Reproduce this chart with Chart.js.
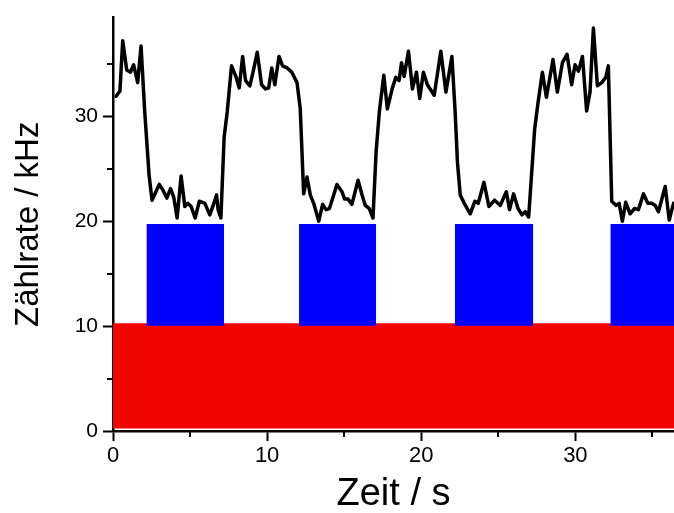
<!DOCTYPE html>
<html>
<head>
<meta charset="utf-8">
<script src="https://cdn.jsdelivr.net/npm/chart.js@4/dist/chart.umd.min.js"></script>
<style>
  body { margin: 0; background: #fff; }
  canvas { display: block; }
</style>
</head>
<body>
<canvas id="chart" width="674" height="513"></canvas>
<script>
// Zeitachse (s) und Zählrate (kHz)
const zeit = [
  0.2, 0.45, 0.63, 0.89, 1.13, 1.34, 1.6, 1.82, 2.06, 2.34, 2.53, 3.0, 3.23, 3.49, 3.73, 3.94,
  4.16, 4.42, 4.66, 4.85, 5.07, 5.33, 5.6, 5.96, 6.28, 6.5, 6.72, 6.82, 7.0, 7.21, 7.41, 7.69,
  7.97, 8.19, 8.41, 8.6, 8.88, 9.1, 9.36, 9.64, 9.9, 10.1, 10.3, 10.5, 10.77, 11.0, 11.3, 11.6,
  11.94, 12.15, 12.37, 12.59, 12.8, 13.02, 13.35, 13.6, 13.82, 14.04, 14.26, 14.53, 14.86, 15.03,
  15.25, 15.5, 15.9, 16.16, 16.37, 16.63, 16.87, 17.07, 17.28, 17.57, 17.8, 18.13, 18.35, 18.56,
  18.72, 18.89, 19.17, 19.43, 19.69, 19.9, 20.14, 20.4, 20.84, 21.27, 21.6, 21.99, 22.2, 22.35,
  22.53, 22.79, 23.18, 23.48, 23.7, 24.07, 24.39, 24.76, 25.13, 25.52, 25.73, 25.99, 26.28, 26.54,
  26.75, 26.97, 27.36, 27.58, 27.86, 28.12, 28.55, 28.83, 29.16, 29.46, 29.76, 29.98, 30.2, 30.46,
  30.73, 30.95, 31.17, 31.43, 31.71, 31.97, 32.14, 32.36, 32.65, 32.84, 33.05, 33.27, 33.55, 33.83,
  34.09, 34.42, 34.7, 34.96, 35.18, 35.39, 35.83, 36.09, 36.37
];
const zaehlrate = [
  31.9, 32.4, 37.2, 34.4, 34.2, 34.9, 33.2, 36.7, 30.4, 24.4, 22.0, 23.5, 23.0, 22.2, 23.1, 22.3,
  20.3, 24.3, 21.4, 21.7, 21.4, 20.3, 21.9, 21.7, 20.6, 21.5, 22.5, 21.1, 20.3, 28.0, 30.4, 34.8,
  33.8, 32.7, 35.7, 33.4, 32.9, 34.3, 36.1, 33.0, 32.6, 32.7, 34.6, 33.0, 35.7, 34.8, 34.6, 34.2,
  33.2, 30.7, 22.6, 24.2, 22.5, 21.7, 20.0, 21.6, 21.1, 21.2, 22.2, 23.5, 22.8, 22.1,
  22.1, 21.6, 23.9, 22.5, 21.5, 21.2, 20.3, 26.6, 30.4, 33.9, 30.7, 32.7, 33.7, 33.4,
  35.1, 33.8, 36.2, 32.6, 34.2, 31.7, 34.2, 33.0, 32.0, 36.2, 32.3, 35.7, 30.4, 25.6,
  22.5, 21.7, 20.7, 21.9, 21.7, 23.7, 21.4, 22.0, 21.5, 22.8, 21.1, 22.6, 21.2, 20.6,
  20.9, 20.4, 28.8, 31.3, 34.2, 31.8, 35.4, 32.3, 35.1, 35.9, 33.0, 34.9, 34.3, 35.7,
  30.5, 32.3, 38.4, 32.9, 33.2, 33.7, 34.8, 21.9, 21.5, 21.7, 20.0, 21.8, 20.7, 21.2,
  21.1, 22.6, 21.7, 21.7, 21.5, 20.9, 23.3, 20.1, 21.7
];

// Blaue Blöcke (Beginn/Ende in s, unten/oben in kHz)
const blauStart = [2.17, 12.07, 22.18, 32.27];
const blauEnde = [7.21, 17.07, 27.27, 36.4];
const blauUnten = 10.03;
const blauOben = 19.74;

// Rote Fläche
const rotUnten = 0.25;
const rotOben = 10.27;

const xMax = 36.4;
const yMax = 39.4;
const xTicks = [0, 10, 20, 30];
const yTicks = [0, 10, 20, 30];
const xMinor = [5, 15, 25, 35];
const yMinor = [5, 15, 25, 35];

const schrift = 'Liberation Sans, Arial, sans-serif';

const datasets = [];

datasets.push({
    data: zeit.map((t, i) => ({ x: t, y: zaehlrate[i] })),
    borderColor: '#000',
    borderWidth: 3.5,
    borderJoinStyle: 'round',
    borderCapStyle: 'round',
    pointRadius: 0,
    tension: 0,
    fill: false,
    order: 0
});

blauStart.forEach((s, i) => {
    datasets.push({
        data: [{ x: s, y: blauOben }, { x: blauEnde[i], y: blauOben }],
        borderWidth: 0,
        borderColor: 'rgba(0,0,0,0)',
        backgroundColor: '#0000FF',
        pointRadius: 0,
        fill: { value: blauUnten },
        order: 1
    });
});

datasets.push({
    data: [{ x: 0, y: rotOben }, { x: xMax, y: rotOben }],
    borderWidth: 0,
    borderColor: 'rgba(0,0,0,0)',
    backgroundColor: '#F00400',
    pointRadius: 0,
    fill: { value: rotUnten },
    order: 2
});

// kleine Zwischenstriche
const minorTicks = {
    id: 'minorTicks',
    afterDraw(chart) {
        const ctx = chart.ctx;
        const xs = chart.scales.x, ys = chart.scales.y;
        const area = chart.chartArea;
        ctx.save();
        ctx.strokeStyle = '#000';
        ctx.lineWidth = 2;
        ctx.beginPath();
        xMinor.forEach(v => {
            const px = Math.round(xs.getPixelForValue(v));
            ctx.moveTo(px, area.bottom);
            ctx.lineTo(px, area.bottom + 6);
        });
        yMinor.forEach(v => {
            const py = Math.round(ys.getPixelForValue(v));
            ctx.moveTo(area.left, py);
            ctx.lineTo(area.left - 6, py);
        });
        ctx.stroke();
        ctx.restore();
    }
};

new Chart(document.getElementById('chart'), {
    type: 'line',
    data: { datasets: datasets },
    options: {
        responsive: false,
        animation: false,
        layout: { padding: { top: 15, right: 0, left: 0, bottom: 0 } },
        plugins: {
            legend: { display: false },
            tooltip: { enabled: false },
            filler: { propagate: false }
        },
        scales: {
            x: {
                type: 'linear',
                min: 0,
                max: xMax,
                afterFit: scale => { scale.height = 82; },
                afterBuildTicks: scale => { scale.ticks = xTicks.map(v => ({ value: v })); },
                border: { display: true, color: '#000', width: 2.5 },
                grid: { drawOnChartArea: false, drawTicks: true, tickLength: 10, tickWidth: 2, tickColor: '#000' },
                ticks: {
                    color: '#000',
                    padding: 2,
                    maxRotation: 0,
                    font: { family: schrift, size: 22 }
                },
                title: {
                    display: true,
                    text: 'Zeit / s',
                    color: '#000',
                    font: { family: schrift, size: 38 },
                    padding: { top: 0, bottom: -4 }
                }
            },
            y: {
                type: 'linear',
                min: 0,
                max: yMax,
                afterFit: scale => { scale.width = 113; },
                afterBuildTicks: scale => { scale.ticks = yTicks.map(v => ({ value: v })); },
                border: { display: true, color: '#000', width: 2.5 },
                grid: { drawOnChartArea: false, drawTicks: true, tickLength: 10, tickWidth: 2, tickColor: '#000' },
                ticks: {
                    color: '#000',
                    padding: 5,
                    font: { family: schrift, size: 21 }
                },
                title: {
                    display: true,
                    text: 'Zählrate / kHz',
                    color: '#000',
                    font: { family: schrift, size: 33 },
                    padding: { top: 9, bottom: 0 }
                }
            }
        }
    },
    plugins: [minorTicks]
});
</script>
</body>
</html>
